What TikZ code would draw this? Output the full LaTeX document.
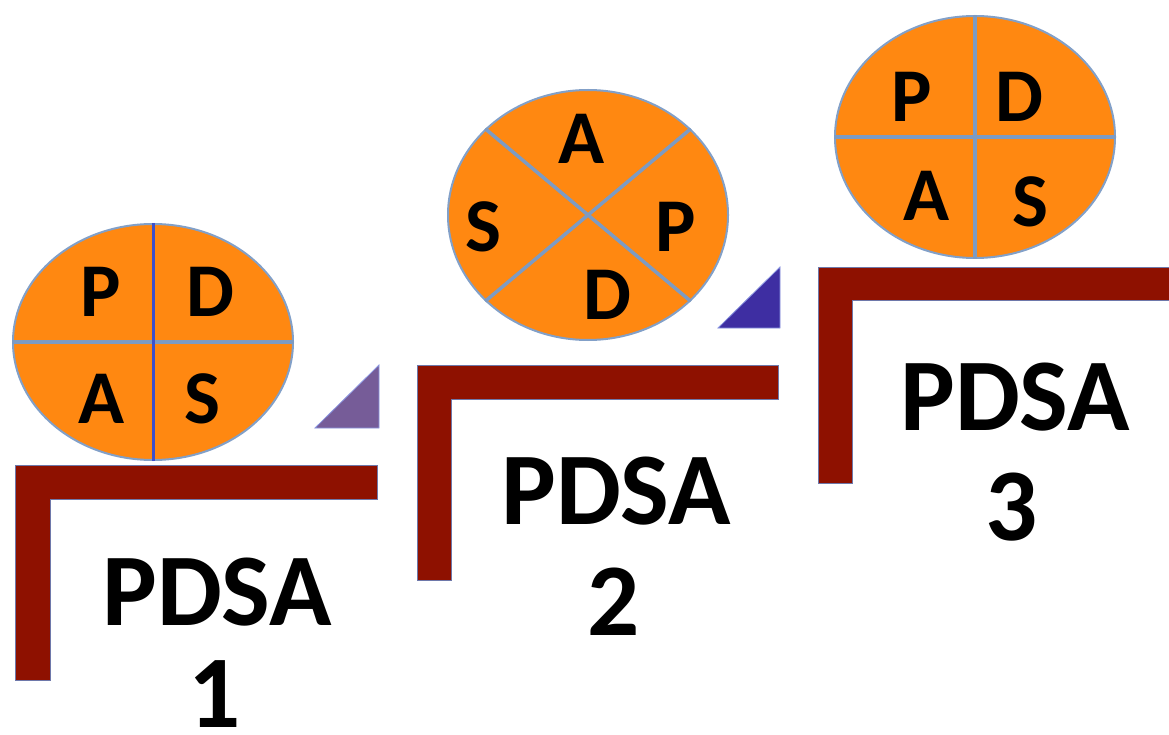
\documentclass[tikz,border=0pt]{standalone}
\usepackage{fontspec}
\setmainfont{Carlito}
\usetikzlibrary{shapes.geometric}
\definecolor{pdsaorange}{RGB}{255,136,17}
\definecolor{rimblue}{RGB}{130,160,200}
\definecolor{lineblue}{RGB}{125,155,195}
\definecolor{royal}{RGB}{60,80,205}
\definecolor{stepred}{RGB}{142,17,0}
\definecolor{stepedge}{RGB}{110,120,170}
\definecolor{triA}{RGB}{118,92,152}
\definecolor{triB}{RGB}{62,46,162}
\begin{document}
\begin{tikzpicture}[x=1pt,y=-1pt,
  cycle/.style={ellipse,fill=pdsaorange,draw=rimblue,line width=2pt,inner sep=0pt,minimum width=280pt},
  divider/.style={draw=lineblue,line width=3.5pt},
  letter/.style={font=\fontsize{76}{80}\selectfont\bfseries,text=black,inner sep=0pt},
  biglabel/.style={font=\fontsize{103}{110}\selectfont\bfseries,text=black,inner sep=0pt,anchor=base},
  stepbar/.style={fill=stepred,draw=stepedge,line width=0.8pt},
  ramp/.style={draw=royal!60,line width=0.8pt}]
\useasboundingbox (0,0) rectangle (1169,735);

% steps
\draw[stepbar] (15,465) -- (377,465) -- (377,499) -- (50,499) -- (50,680) -- (15,680) -- cycle;
\draw[stepbar] (417,365) -- (778,365) -- (778,399) -- (451,399) -- (451,580) -- (417,580) -- cycle;
\draw[stepbar] (818,267) -- (1169,267) -- (1169,300) -- (852,300) -- (852,483) -- (818,483) -- cycle;

% triangles
\fill[triA,ramp] (315,428) -- (379,365) -- (379,428) -- cycle;
\fill[triB,ramp] (718,328) -- (780,267) -- (780,328) -- cycle;

% cycle 1
\node[cycle,minimum height=236pt] (e1) at (153,342) {};
\draw[divider] (e1.west) -- (e1.east);
\draw[draw=royal,line width=3pt] (e1.north) -- (e1.south);
\node[letter] (p1) at (101,292) {P};
\node[letter] (d1) at (210,292) {D};
\node[letter] (a1) at (102,399) {A};
\node[letter] (s1) at (202,399) {S};

% cycle 2
\node[cycle,minimum height=250pt] (e2) at (588,215) {};
\draw[divider] (e2.140) -- (e2.-40);
\draw[divider] (e2.40) -- (e2.-140);
\node[letter] (a2) at (582,139) {A};
\node[letter] (s2) at (483,227) {S};
\node[letter] (p2) at (676,227) {P};
\node[letter] (d2) at (607,295) {D};

% cycle 3
\node[cycle,minimum height=242pt] (e3) at (975,137) {};
\draw[divider] (e3.west) -- (e3.east);
\draw[divider] (e3.north) -- (e3.south);
\node[letter] (p3) at (912,97) {P};
\node[letter] (d3) at (1019,97) {D};
\node[letter] (a3) at (927,196) {A};
\node[letter] (s3) at (1030,202) {S};

% labels
\node[biglabel] (l1a) at (217,625) {PDSA};
\node[biglabel] (l1b) at (215,727) {1};
\node[biglabel] (l2a) at (616,524) {PDSA};
\node[biglabel] (l2b) at (614,635) {2};
\node[biglabel] (l3a) at (1015,430) {PDSA};
\node[biglabel] (l3b) at (1012,540) {3};
\end{tikzpicture}
\end{document}
